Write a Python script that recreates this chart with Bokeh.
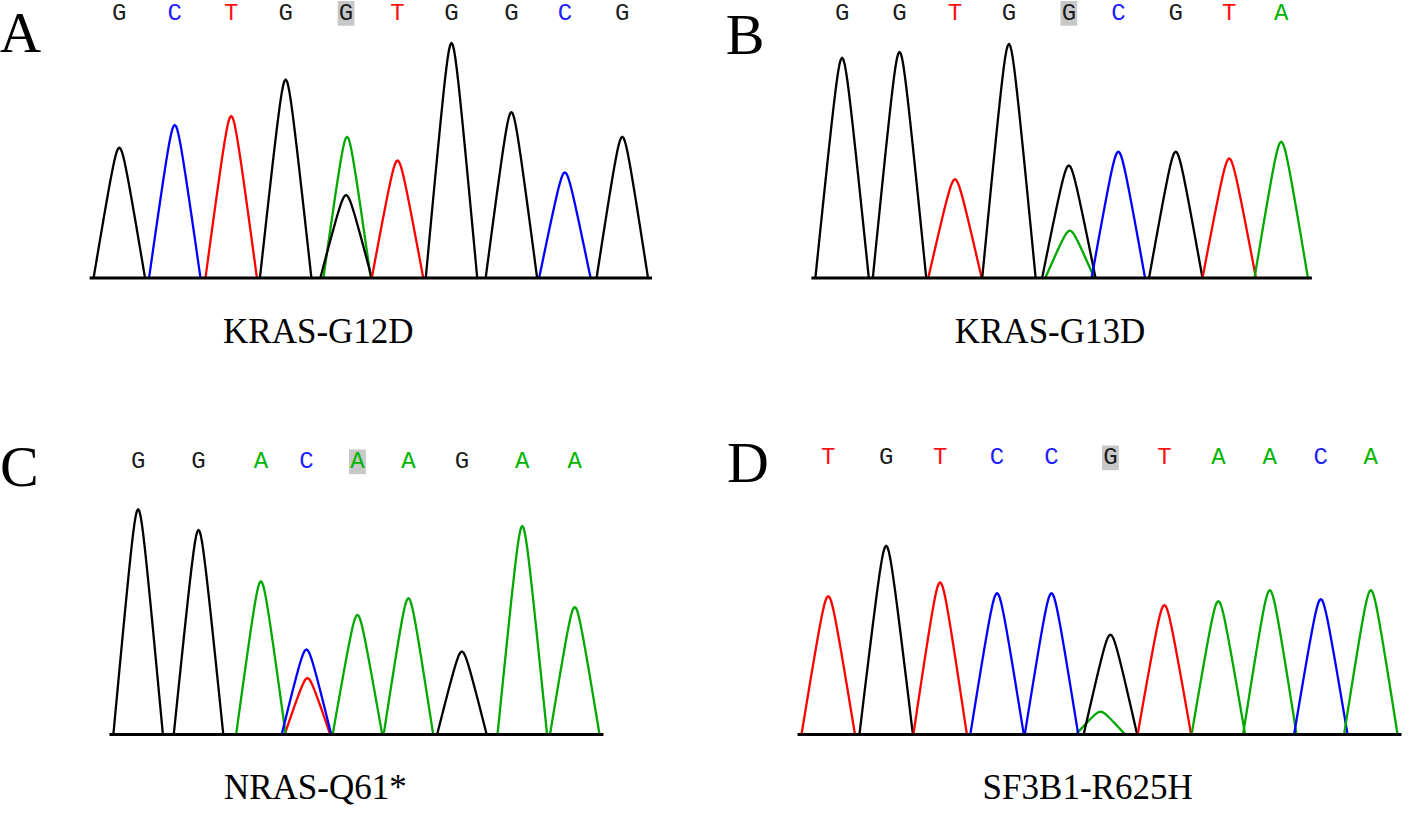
import numpy as np
from bokeh.plotting import figure
from bokeh.models import Range1d
from bokeh.embed import file_html
from bokeh.resources import INLINE
from bokeh.core.properties import value

# ---------------- data ----------------
# Panel A : KRAS-G12D
a_calls = ["G", "C", "T", "G", "G", "T", "G", "G", "C", "G"]
a_pos = [122, 178, 235, 290, 351, 403, 457.5, 518, 572, 630]
a_height = [132, 155, 164, 201, 84, 119, 238, 168, 107, 143]
a_highlight = 4
a_second = ("A", 4, 143, 352)      # base, index, height, position

# Panel B : KRAS-G13D
b_calls = ["G", "G", "T", "G", "G", "C", "G", "T", "A"]
b_pos = [852, 910, 966, 1020.5, 1081, 1131, 1189, 1243, 1295.5]
b_height = [223, 229, 100, 237, 114, 128, 128, 121, 138]
b_highlight = 4
b_second = ("A", 4, 48, 1082)

# Panel C : NRAS-Q61*
c_calls = ["G", "G", "A", "C", "A", "A", "G", "A", "A"]
c_pos = [141, 202, 265, 311, 362.5, 414, 468, 529, 582]
c_height = [228, 207, 155, 86, 121, 138, 84, 211, 129]
c_highlight = 4
c_second = ("T", 3, 57, 312)

# Panel D : SF3B1-R625H
d_calls = ["T", "G", "T", "C", "C", "G", "T", "A", "A", "C", "A"]
d_pos = [838, 896.5, 951, 1008.5, 1063.5, 1123, 1177.5, 1232, 1284, 1335.5, 1386]
d_height = [140, 191, 154, 143, 143, 101, 131, 135, 146, 137, 146]
d_highlight = 5
d_second = ("A", 5, 23, 1113)

captions = ["KRAS-G12D", "KRAS-G13D", "NRAS-Q61*", "SF3B1-R625H"]
panel_labels = ["A", "B", "C", "D"]

# ---------------- styles / layout ----------------
TRACE = {"A": "#00a800", "C": "#0000ff", "G": "#000000", "T": "#ff0000"}
LETTER = {"A": "#00b400", "C": "#2020ff", "G": "#1c1c1c", "T": "#ff1010"}

layout = [
    dict(baseline=283, letters_y=15, cap=(323, 337), lab=(22, 34), hw=26),
    dict(baseline=283, letters_y=15, cap=(1062, 337), lab=(754, 36), hw=27),
    dict(baseline=745, letters_y=469, cap=(320, 799), lab=(21, 474), hw=25),
    dict(baseline=745, letters_y=465, cap=(1100, 799), lab=(757, 470), hw=27),
]
panels = [
    (a_calls, a_pos, a_height, a_highlight, a_second),
    (b_calls, b_pos, b_height, b_highlight, b_second),
    (c_calls, c_pos, c_height, c_highlight, c_second),
    (d_calls, d_pos, d_height, d_highlight, d_second),
]


def peak(c, h, hw, base_y, n=41, a=0.18):
    u = np.linspace(-1, 1, n)
    s = np.sqrt(u ** 2 + a ** 2) - a
    f = 1 - s / (np.sqrt(1 + a ** 2) - a)
    return list(c + u * hw), list(base_y - h * f)


p = figure(width=1402, height=810, output_backend="svg", toolbar_location=None,
           x_range=Range1d(2, 1418), y_range=Range1d(822, 2),
           min_border=0)
p.axis.visible = False
p.grid.visible = False
p.outline_line_color = None
p.background_fill_color = "white"
p.border_fill_color = "white"

xs, ys, cols = [], [], []
bx0, bx1, by = [], [], []
hl_x, hl_y = [], []
lt_x, lt_y, lt_t, lt_c = [], [], [], []
for (calls, pos, hts, hi, sec), lay in zip(panels, layout):
    hw = lay["hw"]
    sb, si, sh, sp = sec
    x, y = peak(sp, sh, hw * 0.92, lay["baseline"])
    xs.append(x); ys.append(y); cols.append(TRACE[sb])
    for b, c, h in zip(calls, pos, hts):
        x, y = peak(c, h, hw, lay["baseline"])
        xs.append(x); ys.append(y); cols.append(TRACE[b])
    bx0.append(min(pos) - hw - 4); bx1.append(max(pos) + hw + 4); by.append(lay["baseline"])
    hl_x.append(pos[hi]); hl_y.append(lay["letters_y"])
    for b, c in zip(calls, pos):
        lt_x.append(c); lt_y.append(lay["letters_y"]); lt_t.append(b); lt_c.append(LETTER[b])

p.multi_line(xs=xs, ys=ys, line_color=cols, line_width=2.3, line_join="round")
p.segment(x0=bx0, y0=by, x1=bx1, y1=by, line_color="black", line_width=3)

p.rect(x=hl_x, y=hl_y, width=17, height=25, fill_color="#c8c8c8", line_color=None)
p.text(x=lt_x, y=lt_y, text=lt_t, text_color=lt_c,
       text_font=value("Liberation Mono"), text_font_size="24px",
       text_align="center", text_baseline="middle")

p.text(x=[l["cap"][0] for l in layout], y=[l["cap"][1] for l in layout], text=captions,
       text_color="black", text_font=value("Liberation Serif"), text_font_size="35px",
       text_align="center", text_baseline="middle")
p.text(x=[l["lab"][0] for l in layout], y=[l["lab"][1] for l in layout], text=panel_labels,
       text_color="black", text_font=value("Liberation Serif"), text_font_size="58px",
       text_align="center", text_baseline="middle")

open("out.html", "w").write(file_html(p, INLINE))
